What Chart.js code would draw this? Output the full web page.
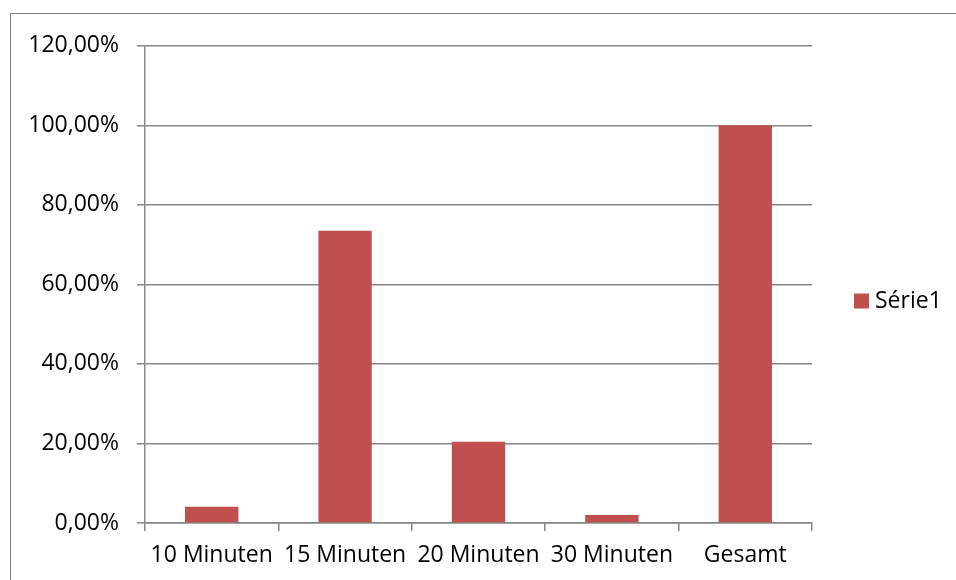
<!DOCTYPE html>
<html>
<head>
<meta charset="utf-8">
<title>Série1</title>
<script src="https://cdn.jsdelivr.net/npm/chart.js@4"></script>
<style>
  html, body { margin: 0; padding: 0; background: #ffffff; overflow: hidden; }
  #frame {
    position: absolute;
    left: 10px;
    top: 13px;
    width: 946px;
    height: 600px;
    border-left: 1px solid #7f7f7f;
    border-top: 1px solid #7f7f7f;
    box-sizing: border-box;
  }
  #chart { display: block; }
</style>
</head>
<body>
<div id="frame"><canvas id="chart" width="945" height="577"></canvas></div>
<script>
// Anteile je Kategorie (Bruchteile von 1)
const categories = ['10 Minuten', '15 Minuten', '20 Minuten', '30 Minuten', 'Gesamt'];
const seriesLabel = 'Série1';
const seriesValues = [0.0408, 0.7347, 0.2041, 0.0204, 1.0];
const axisMin = 0;
const axisMax = 1.2;
const axisStep = 0.2;

const FONT = "'Open Sans', 'Noto Sans', sans-serif";
const GRID = '#868686';
const BAR = '#C0504D';

function formatPercent(v) {
  return (v * 100).toFixed(2).replace('.', ',') + '%';
}

// Legende rechts neben dem Diagrammbereich
const sideLegend = {
  id: 'sideLegend',
  afterDraw(chart) {
    const ctx = chart.ctx;
    const ds = chart.data.datasets[0];
    const x = chart.chartArea.right + 42;
    const cy = chart.height / 2 - 1.5;
    ctx.save();
    ctx.fillStyle = ds.backgroundColor;
    ctx.fillRect(x, cy - 7.5, 15, 15);
    ctx.fillStyle = '#000000';
    ctx.font = '23px ' + FONT;
    ctx.textAlign = 'left';
    ctx.textBaseline = 'middle';
    ctx.fillText(ds.label, x + 21, cy);
    ctx.restore();
  }
};

new Chart(document.getElementById('chart'), {
  type: 'bar',
  data: {
    labels: categories,
    datasets: [{
      label: seriesLabel,
      data: seriesValues,
      backgroundColor: BAR,
      borderWidth: 0,
      barPercentage: 0.4,
      categoryPercentage: 1.0
    }]
  },
  options: {
    responsive: false,
    animation: false,
    events: [],
    layout: { padding: { top: 29, right: 144, left: 0, bottom: 0 } },
    plugins: {
      legend: { display: false },
      tooltip: { enabled: false }
    },
    scales: {
      x: {
        afterFit(scale) { scale.height = 68; },
        grid: {
          display: true,
          offset: true,
          drawOnChartArea: false,
          drawTicks: true,
          tickLength: 8,
          color: GRID,
          lineWidth: 1.5
        },
        border: { display: true, color: GRID, width: 1.5 },
        ticks: {
          color: '#000000',
          font: { family: FONT, size: 23 },
          padding: 11,
          maxRotation: 0,
          autoSkip: false
        }
      },
      y: {
        min: axisMin,
        max: axisMax,
        afterFit(scale) { scale.width = 134; },
        grid: {
          color: GRID,
          lineWidth: 1.5,
          drawTicks: true,
          tickLength: 8
        },
        border: { display: true, color: GRID, width: 1.5 },
        ticks: {
          stepSize: axisStep,
          color: '#000000',
          font: { family: FONT, size: 23 },
          padding: 18,
          callback: (v) => formatPercent(v)
        }
      }
    }
  },
  plugins: [sideLegend]
});
</script>
</body>
</html>
